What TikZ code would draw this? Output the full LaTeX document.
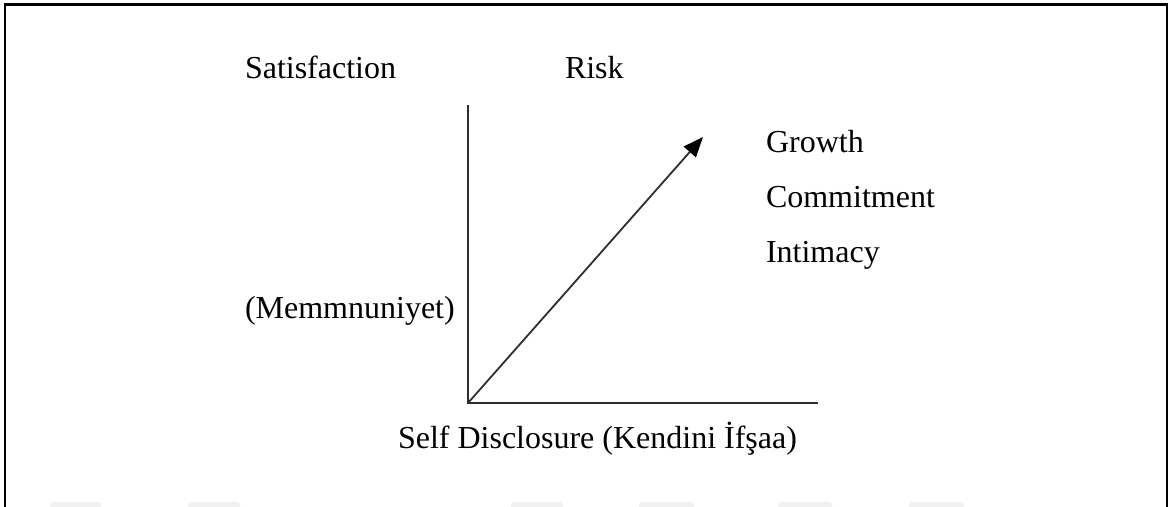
\documentclass[tikz,border=0pt]{standalone}
\usepackage{fontspec}
\setmainfont{Liberation Serif}
\usetikzlibrary{arrows.meta}
\newlength{\du}
\setlength{\du}{0.5pt}
\definecolor{dialinecolor}{rgb}{0.000000, 0.000000, 0.000000}
\definecolor{axiscolor}{rgb}{0.180000, 0.180000, 0.180000}
\definecolor{markcolor}{rgb}{0.945000, 0.945000, 0.945000}
\tikzset{
  labeltext/.style={anchor=base west, inner sep=0pt, outer sep=0pt, color=dialinecolor, font=\fontsize{16}{19}\selectfont},
  axisline/.style={draw=axiscolor, line width=1.8\du},
}

\begin{document}
\begin{tikzpicture}[even odd rule]
\pgftransformxscale{1.000000}
\pgftransformyscale{-1.000000}
\useasboundingbox (0\du,0\du) rectangle (1174\du,507\du);
% frame
\draw[dialinecolor, line width=2.5\du] (5\du,507\du)--(5\du,4.5\du)--(1167\du,4.5\du)--(1167\du,507\du);
% faint marks at the bottom edge
\foreach \xa/\xb in {50/101, 188/240, 511/563, 639/694, 778/832, 909/964}
  \fill[markcolor, rounded corners=3\du] (\xa\du,512\du)--(\xa\du,502\du)--(\xb\du,502\du)--(\xb\du,512\du)--cycle;
% axes
\coordinate (origin) at (468\du,403\du);
\coordinate (ytop) at (468\du,105\du);
\coordinate (xend) at (818\du,403\du);
\coordinate (tip) at (703\du,137\du);
\draw[axisline] (ytop)--(origin)--(xend);
\draw[axisline, -{Triangle[length=10pt, width=8pt, fill=black, color=black]}] (origin)--(tip);
% labels
\node[labeltext] (satisfaction) at (245\du,79\du){Satisfaction};
\node[labeltext] (risk) at (565\du,79\du){Risk};
\node[labeltext] (memnun) at (245\du,319\du){(Memmnuniyet)};
\node[labeltext] (growth) at (766\du,153\du){Growth};
\node[labeltext] (commit) at (766\du,208\du){Commitment};
\node[labeltext] (intimacy) at (766\du,263\du){Intimacy};
\node[labeltext] (disclosure) at (398\du,449\du){Self Disclosure (Kendini İfşaa)};
\end{tikzpicture}
\end{document}
